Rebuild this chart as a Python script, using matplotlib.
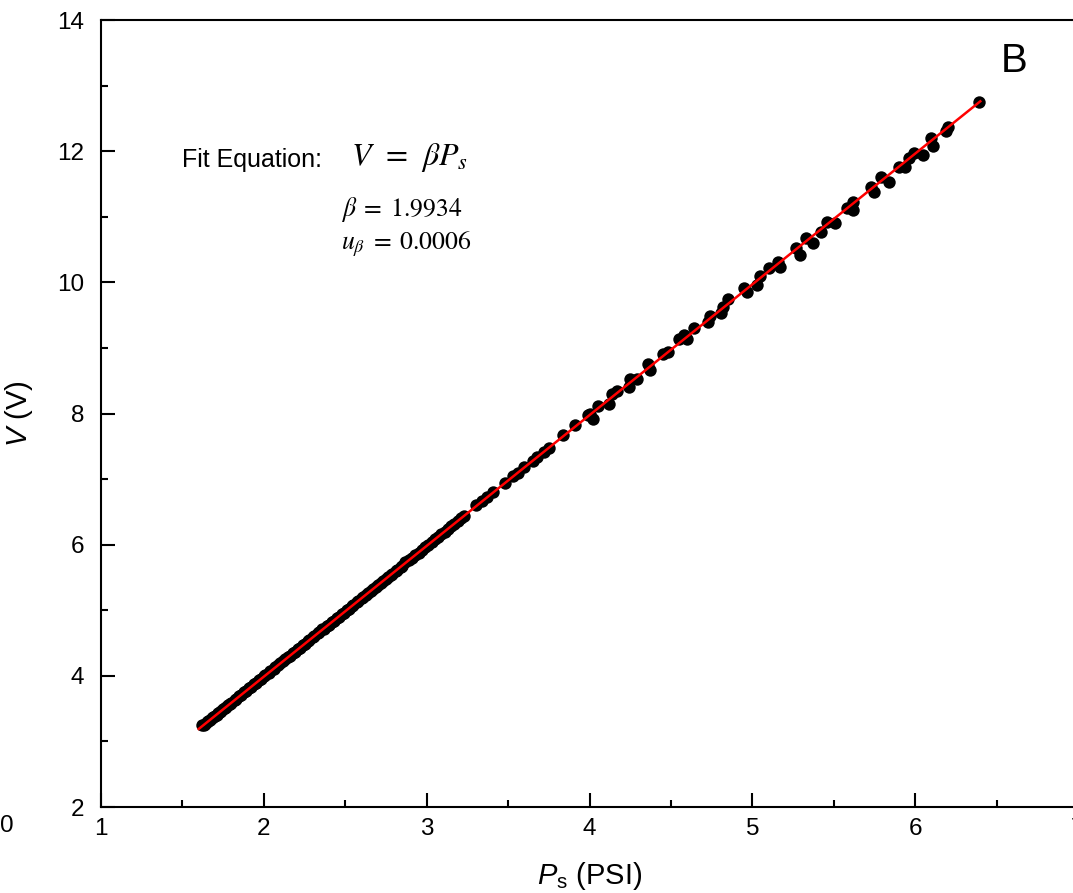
import numpy as np
import matplotlib.pyplot as plt

plt.rcParams['font.family'] = ['Liberation Sans', 'DejaVu Sans']
plt.rcParams['mathtext.fontset'] = 'custom'
plt.rcParams['mathtext.rm'] = 'Liberation Sans'
plt.rcParams['mathtext.it'] = 'Liberation Sans:italic'

ps = [1.62, 1.63, 1.64, 1.65, 1.66, 1.67, 1.68, 1.69, 1.70, 1.71, 1.72, 1.73,
      1.74, 1.75, 1.76, 1.77, 1.78, 1.79, 1.80, 1.82, 1.83, 1.85, 1.86, 1.88,
      1.89, 1.91, 1.92, 1.94, 1.95, 1.97, 1.98, 2.00, 2.01, 2.03, 2.04, 2.06,
      2.07, 2.09, 2.10, 2.12, 2.13, 2.15, 2.16, 2.18, 2.19, 2.21, 2.22, 2.24,
      2.25, 2.27, 2.28, 2.30, 2.31, 2.33, 2.34, 2.36, 2.37, 2.39, 2.40, 2.42,
      2.43, 2.45, 2.46, 2.48, 2.49, 2.51, 2.52, 2.54, 2.55, 2.57, 2.58, 2.60,
      2.61, 2.63, 2.64, 2.66, 2.67, 2.69, 2.70, 2.72, 2.73, 2.75, 2.76, 2.78,
      2.79, 2.81, 2.82, 2.84, 2.85, 2.87, 2.89, 2.91, 2.93, 2.95, 2.97, 2.99,
      3.01, 3.03, 3.05, 3.07, 3.09, 3.11, 3.13, 3.15, 3.17, 3.19, 3.21, 3.23,
      3.30, 3.34, 3.37, 3.41,
      3.48, 3.53, 3.56, 3.60, 3.65, 3.68, 3.72, 3.75, 3.84, 3.91, 3.99, 4.00,
      4.02, 4.05, 4.12, 4.14, 4.17, 4.24, 4.25, 4.29, 4.36, 4.37, 4.45, 4.48,
      4.55, 4.58, 4.60, 4.64, 4.73, 4.74, 4.81, 4.82, 4.85, 4.95, 4.97, 5.03,
      5.05, 5.10, 5.16, 5.17, 5.27, 5.29, 5.33, 5.37, 5.42, 5.46, 5.51, 5.58,
      5.62, 5.62, 5.73, 5.75, 5.79, 5.84, 5.90, 5.94, 5.96, 5.99, 6.05, 6.10,
      6.11, 6.19, 6.20, 6.39]
volt = [3.25, 3.25, 3.27, 3.29, 3.31, 3.33, 3.35, 3.37, 3.39, 3.41, 3.43, 3.45,
        3.47, 3.49, 3.51, 3.53, 3.55, 3.57, 3.59, 3.63, 3.65, 3.69, 3.71, 3.75,
        3.77, 3.81, 3.83, 3.87, 3.89, 3.93, 3.95, 3.99, 4.01, 4.05, 4.07, 4.11,
        4.13, 4.17, 4.19, 4.23, 4.25, 4.29, 4.31, 4.35, 4.37, 4.41, 4.43, 4.47,
        4.49, 4.53, 4.55, 4.59, 4.61, 4.65, 4.67, 4.71, 4.72, 4.76, 4.78, 4.82,
        4.84, 4.88, 4.90, 4.94, 4.96, 5.00, 5.02, 5.06, 5.08, 5.12, 5.14, 5.18,
        5.20, 5.24, 5.26, 5.30, 5.32, 5.36, 5.38, 5.42, 5.44, 5.48, 5.50, 5.54,
        5.56, 5.60, 5.62, 5.66, 5.68, 5.73, 5.76, 5.80, 5.85, 5.88, 5.92, 5.97,
        6.00, 6.04, 6.08, 6.12, 6.16, 6.20, 6.24, 6.28, 6.32, 6.36, 6.40, 6.44,
        6.60, 6.67, 6.73, 6.80,
        6.94, 7.05, 7.10, 7.19, 7.27, 7.34, 7.42, 7.48, 7.67, 7.82, 7.97, 7.99,
        7.91, 8.11, 8.14, 8.29, 8.34, 8.40, 8.52, 8.52, 8.75, 8.67, 8.90, 8.94,
        9.13, 9.20, 9.13, 9.31, 9.39, 9.48, 9.54, 9.63, 9.74, 9.92, 9.86, 9.96,
        10.09, 10.22, 10.31, 10.24, 10.53, 10.42, 10.68, 10.60, 10.77, 10.92,
        10.91, 11.14, 11.23, 11.11, 11.46, 11.37, 11.61, 11.53, 11.76, 11.76,
        11.90, 11.97, 11.94, 12.20, 12.08, 12.30, 12.37, 12.75]

# fit V = beta * Ps
fit_ps = [1.60, 6.40]
fit_v = [3.19, 12.76]

fig = plt.figure(figsize=(10.73, 8.93), dpi=100)
ax = fig.add_axes([101/1073, 86/893, 977/1073, 787/893])

ax.scatter(ps, volt, s=80, c='black', zorder=2, linewidths=0)
ax.plot(fit_ps, fit_v, color='red', lw=1.8, zorder=3)

ax.set_xlim(1, 7)
ax.set_ylim(2, 14)
ax.set_xticks([1, 2, 3, 4, 5, 6, 7])
ax.set_xticks(np.arange(1.5, 7, 1), minor=True)
ax.set_yticks([2, 4, 6, 8, 10, 12, 14])
ax.set_yticks([3, 5, 7, 9, 11, 13], minor=True)
ax.tick_params(which='major', direction='in', length=10, width=1.5,
               labelsize=17.5)
ax.tick_params(which='minor', direction='in', length=5, width=1.5)
ax.tick_params(axis='y', pad=12)
ax.tick_params(axis='x', pad=8)
for sp in ax.spines.values():
    sp.set_linewidth(1.5)

ax.set_xlabel(r'$P_\mathrm{s}$ (PSI)', fontsize=21, labelpad=14)
ax.set_ylabel(r'$V$ (V)', fontsize=21, labelpad=16)

ax.text(182/1073, 733/893, 'Fit Equation:', transform=fig.transFigure,
        fontsize=18, va='center')
ax.text(351/1073, 736/893, r'$V\;\,=\;\,\beta P_s$', transform=fig.transFigure,
        fontsize=23, va='center', math_fontfamily='stix')
ax.text(341/1073, 683/893, r'$\beta\;=\;\mathrm{1.9934}$',
        transform=fig.transFigure, fontsize=18.5, va='center',
        math_fontfamily='stix')
ax.text(341/1073, 649/893, r'$u_\beta\;=\;\mathrm{0.0006}$',
        transform=fig.transFigure, fontsize=18.5, va='center',
        math_fontfamily='stix')
ax.text(1001/1073, 832/893, 'B', transform=fig.transFigure, fontsize=29,
        va='center')
fig.text(0, 67/893, '0', fontsize=17.5, va='center')

fig.savefig('out.png', dpi=100)
